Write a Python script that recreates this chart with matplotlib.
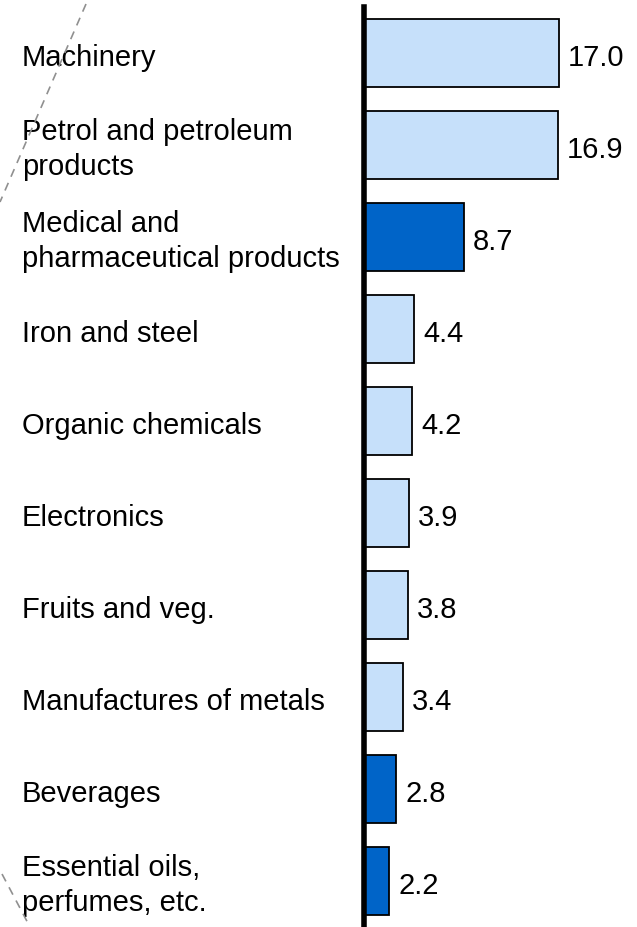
import matplotlib.pyplot as plt
from matplotlib.lines import Line2D
from matplotlib.transforms import blended_transform_factory

categories = ['Machinery', 'Petrol and petroleum\nproducts', 'Medical and\npharmaceutical products',
              'Iron and steel', 'Organic chemicals', 'Electronics', 'Fruits and veg.',
              'Manufactures of metals', 'Beverages', 'Essential oils,\nperfumes, etc.']
values = [17.0, 16.9, 8.7, 4.4, 4.2, 3.9, 3.8, 3.4, 2.8, 2.2]
highlight = [False, False, True, False, False, False, False, False, True, True]

light = '#c6e0fa'
dark = '#0064c8'

W, H = 637, 928
fig = plt.figure(figsize=(W / 100, H / 100), dpi=100)
plt.rcParams['font.family'] = ['Liberation Sans', 'DejaVu Sans']

ax = fig.add_axes([364 / W, 0, (W - 364) / W, (H - 8) / H])
y = list(range(len(values)))
colors = [dark if h else light for h in highlight]
ax.barh(y, values, height=0.73, color=colors, edgecolor='black', linewidth=1.3)
ax.set_ylim(len(values) - 0.5, -0.5)
ax.set_xlim(0, (W - 364) / 11.47)

for s in ['top', 'right', 'bottom']:
    ax.spines[s].set_visible(False)
ax.spines['left'].set_linewidth(4)
ax.spines['left'].set_zorder(5)
ax.set_xticks([])
ax.set_yticks([])

for i, v in enumerate(values):
    ax.text(v + 0.8, i + 0.04, f'{v:.1f}', va='center', ha='left', fontsize=21)

tr = blended_transform_factory(fig.transFigure, ax.transData)
for i, c in enumerate(categories):
    ax.text(22 / W, i + 0.04, c, transform=tr, va='center', ha='left', fontsize=21,
            linespacing=1.3, clip_on=False)

# decorative dashed lines at the left edge
for (x0, y0), (x1, y1) in [((86, 5), (0, 203)), ((2, 875), (30, 928))]:
    fig.add_artist(Line2D([x0 / W, x1 / W], [1 - y0 / H, 1 - y1 / H], transform=fig.transFigure,
                          color='#909090', linestyle=(0, (5, 4)), linewidth=1.2))

fig.savefig('out.png', dpi=100)
